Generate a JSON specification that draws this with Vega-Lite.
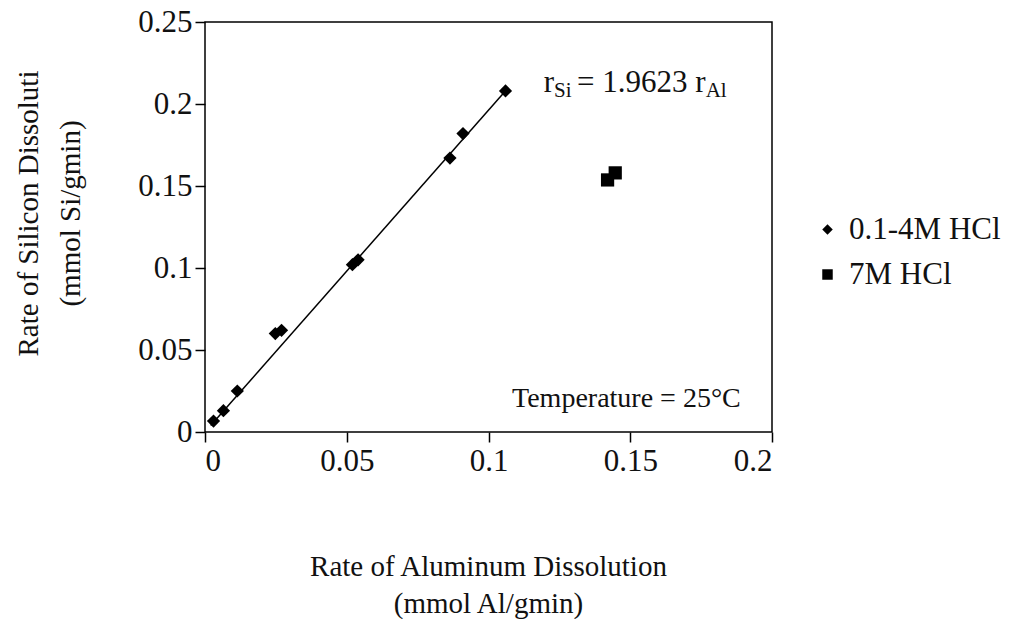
{
  "$schema": "https://vega.github.io/schema/vega-lite/v6.json",
  "width": 567,
  "height": 410,
  "autosize": "none",
  "padding": {"left": 205, "top": 22, "right": 237, "bottom": 187},
  "background": "white",
  "config": {
    "view": {"stroke": "black", "strokeWidth": 1.5},
    "font": "Liberation Serif",
    "axis": {
      "domain": false,
      "grid": false,
      "ticks": true,
      "tickColor": "black",
      "tickWidth": 1.5,
      "tickSize": 10,
      "labelFont": "Liberation Serif",
      "labelFontSize": 31,
      "labelColor": "#111",
      "titleFont": "Liberation Serif",
      "titleFontSize": 29,
      "titleFontWeight": "normal",
      "titleColor": "#111"
    }
  },
  "datasets": {
    "pts": [
      {"rAl": 0.003, "rSi": 0.0067, "series": "0.1-4M HCl"},
      {"rAl": 0.0065, "rSi": 0.013, "series": "0.1-4M HCl"},
      {"rAl": 0.0114, "rSi": 0.025, "series": "0.1-4M HCl"},
      {"rAl": 0.0248, "rSi": 0.06, "series": "0.1-4M HCl"},
      {"rAl": 0.027, "rSi": 0.062, "series": "0.1-4M HCl"},
      {"rAl": 0.052, "rSi": 0.102, "series": "0.1-4M HCl"},
      {"rAl": 0.054, "rSi": 0.105, "series": "0.1-4M HCl"},
      {"rAl": 0.0864, "rSi": 0.167, "series": "0.1-4M HCl"},
      {"rAl": 0.091, "rSi": 0.182, "series": "0.1-4M HCl"},
      {"rAl": 0.106, "rSi": 0.208, "series": "0.1-4M HCl"},
      {"rAl": 0.142, "rSi": 0.1537, "series": "7M HCl"},
      {"rAl": 0.1447, "rSi": 0.158, "series": "7M HCl"}
    ],
    "fit": [
      {"rAl": 0.002, "rSi": 0.0039},
      {"rAl": 0.1065, "rSi": 0.209}
    ],
    "ann": [
      {"ax": 0.1195, "ay": 0.2073, "t": "r"},
      {"ax": 0.1312, "ay": 0.2073, "t": "= 1.9623 r"}
    ],
    "temp": [
      {"ax": 0.1083, "ay": 0.0152, "t": "Temperature = 25°C"}
    ],
    "sub": [
      {"ax": 0.1231, "ay": 0.2041, "t": "Si"},
      {"ax": 0.1766, "ay": 0.2041, "t": "Al"}
    ]
  },
  "layer": [
    {
      "data": {"name": "fit"},
      "mark": {"type": "line", "color": "black", "strokeWidth": 1.5},
      "encoding": {
        "x": {
          "field": "rAl", "type": "quantitative",
          "scale": {"domain": [0, 0.2], "nice": false, "zero": false},
          "axis": {
            "values": [0, 0.05, 0.1, 0.15, 0.2],
            "format": "~g",
            "labelPadding": 4,
            "title": ["Rate of Aluminum Dissolution", "(mmol Al/gmin)"],
            "titleLineHeight": 37,
            "titleBaseline": "top",
            "titleAnchor": "middle",
            "titleX": 283,
            "titleY": 120
          }
        },
        "y": {
          "field": "rSi", "type": "quantitative",
          "scale": {"domain": [0, 0.25], "nice": false, "zero": false},
          "axis": {
            "values": [0, 0.05, 0.1, 0.15, 0.2, 0.25],
            "format": "~g",
            "labelPadding": 3,
            "title": ["Rate of Silicon Dissoluti", "(mmol Si/gmin)"],
            "titleLineHeight": 42,
            "titleAngle": -90,
            "titleBaseline": "top",
            "titleAlign": "center",
            "titleX": -191,
            "titleY": 191
          }
        }
      }
    },
    {
      "data": {"name": "pts"},
      "mark": {"type": "point", "filled": true, "fill": "black", "opacity": 1, "size": 175},
      "encoding": {
        "x": {"field": "rAl", "type": "quantitative"},
        "y": {"field": "rSi", "type": "quantitative"},
        "shape": {
          "field": "series", "type": "nominal",
          "scale": {"domain": ["0.1-4M HCl", "7M HCl"], "range": ["diamond", "square"]},
          "legend": {
            "title": null,
            "orient": "none",
            "legendX": 607,
            "legendY": 192,
            "padding": 0,
            "symbolSize": 110,
            "symbolFillColor": "black",
            "symbolStrokeColor": "black",
            "labelFont": "Liberation Serif",
            "labelFontSize": 31,
            "labelColor": "#111",
            "labelLimit": 400,
            "labelOffset": 6,
            "rowPadding": 13
          }
        }
      }
    },
    {
      "data": {"name": "ann"},
      "mark": {"type": "text", "align": "left", "baseline": "alphabetic", "fontSize": 31, "font": "Liberation Serif", "color": "#111"},
      "encoding": {
        "x": {"field": "ax", "type": "quantitative"},
        "y": {"field": "ay", "type": "quantitative"},
        "text": {"field": "t"}
      }
    },
    {
      "data": {"name": "temp"},
      "mark": {"type": "text", "align": "left", "baseline": "alphabetic", "fontSize": 28, "font": "Liberation Serif", "color": "#111"},
      "encoding": {
        "x": {"field": "ax", "type": "quantitative"},
        "y": {"field": "ay", "type": "quantitative"},
        "text": {"field": "t"}
      }
    },
    {
      "data": {"name": "sub"},
      "mark": {"type": "text", "align": "left", "baseline": "alphabetic", "fontSize": 21, "font": "Liberation Serif", "color": "#111"},
      "encoding": {
        "x": {"field": "ax", "type": "quantitative"},
        "y": {"field": "ay", "type": "quantitative"},
        "text": {"field": "t"}
      }
    }
  ]
}
